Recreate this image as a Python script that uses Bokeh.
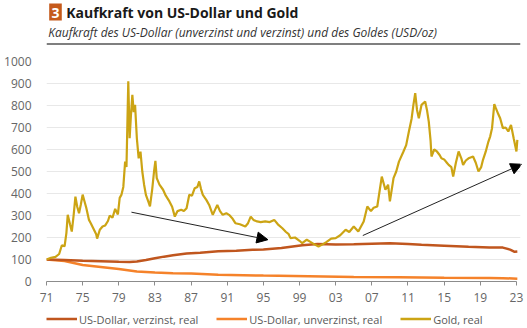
from bokeh.plotting import figure
from bokeh.layouts import column
from bokeh.models import (Range1d, FixedTicker, Legend, LegendItem, Label, Arrow,
                          NormalHead, Span)
from bokeh.embed import file_html
from bokeh.resources import INLINE

# ---------------- data ----------------
gold_year = [1971.0, 1971.5, 1972.0, 1972.4, 1972.7, 1973.0, 1973.2, 1973.35, 1973.6, 1973.8,
             1974.0, 1974.2, 1974.4, 1974.6, 1974.8, 1975.0, 1975.2, 1975.4, 1975.7, 1975.9,
             1976.2, 1976.5, 1976.6, 1976.9, 1977.2, 1977.5, 1977.8, 1978.0, 1978.3, 1978.6,
             1978.9, 1979.1, 1979.3, 1979.5, 1979.7, 1979.85, 1980.05, 1980.2, 1980.35, 1980.5,
             1980.65, 1980.8, 1981.0, 1981.2, 1981.4, 1981.6, 1981.8, 1982.0, 1982.3, 1982.45,
             1982.7, 1982.9, 1983.05, 1983.2, 1983.5, 1983.9, 1984.2, 1984.6, 1984.9, 1985.2,
             1985.5, 1985.9, 1986.2, 1986.5, 1986.8, 1987.1, 1987.4, 1987.7, 1987.9, 1988.1,
             1988.3, 1988.7, 1989.0, 1989.4, 1989.7, 1989.9, 1990.2, 1990.5, 1990.9, 1991.2,
             1991.6, 1991.9, 1992.4, 1993.0, 1993.3, 1993.6, 1993.9, 1994.3, 1994.7, 1995.2,
             1995.7, 1996.2, 1996.6, 1997.1, 1997.5, 1997.8, 1998.0, 1998.5, 1999.0, 1999.3,
             1999.8, 2000.2, 2000.6, 2001.1, 2001.6, 2002.0, 2002.5, 2003.0, 2003.5, 2004.1,
             2004.5, 2005.0, 2005.5, 2006.1, 2006.5, 2006.9, 2007.2, 2007.6, 2008.1, 2008.5,
             2008.8, 2009.0, 2009.4, 2009.7, 2010.0, 2010.5, 2010.8, 2011.1, 2011.4, 2011.6,
             2011.8, 2012.0, 2012.2, 2012.5, 2012.9, 2013.1, 2013.3, 2013.5, 2013.6, 2013.9,
             2014.2, 2014.5, 2014.7, 2015.0, 2015.3, 2015.5, 2015.8, 2016.0, 2016.3, 2016.6,
             2016.9, 2017.1, 2017.4, 2017.7, 2018.0, 2018.2, 2018.5, 2018.8, 2019.1, 2019.3,
             2019.6, 2019.9, 2020.1, 2020.3, 2020.55, 2020.7, 2021.0, 2021.2, 2021.5, 2021.8,
             2022.1, 2022.4, 2022.7, 2023.0, 2023.1]
gold_real = [100, 108, 112, 125, 165, 160, 220, 303, 260, 227,
             300, 386, 340, 310, 350, 395, 365, 335, 280, 265,
             240, 215, 195, 235, 250, 255, 275, 300, 290, 330,
             305, 380, 395, 430, 545, 520, 910, 651, 760, 848,
             770, 803, 650, 560, 590, 500, 440, 394, 360, 341,
             420, 500, 548, 470, 440, 417, 390, 364, 340, 295,
             320, 326, 320, 333, 394, 390, 424, 430, 455, 420,
             394, 370, 348, 303, 330, 348, 320, 303, 310, 303,
             285, 265, 260, 250, 265, 295, 280, 273, 270, 273,
             270, 280, 260, 242, 225, 215, 197, 200, 185, 174,
             190, 180, 170, 159, 170, 180, 195, 197, 210, 235,
             225, 250, 227, 273, 341, 320, 335, 341, 477, 417,
             440, 364, 470, 500, 545, 591, 620, 682, 740, 803,
             856, 780, 742, 803, 818, 780, 727, 640, 568, 600,
             591, 575, 560, 555, 540, 530, 520, 477, 540, 591,
             560, 530, 550, 560, 565, 568, 540, 500, 520, 553,
             590, 636, 660, 697, 806, 790, 760, 742, 697, 700,
             682, 712, 650, 591, 644]

usd_int_year = [1971, 1973, 1975, 1977, 1979, 1980.2, 1981, 1982, 1983, 1984, 1985, 1986.5,
                1988, 1990, 1992, 1993.8, 1995, 1997, 1999.3, 2001, 2003, 2005, 2007, 2009,
                2011, 2012.5, 2015, 2017.7, 2020, 2021.5, 2022.3, 2022.8, 2023.1]
usd_int_real = [100, 98, 94, 92, 90, 89, 91, 98, 106, 113, 119, 127,
                131, 137, 140, 144, 146, 152, 165, 170, 168, 169, 172, 174,
                170, 167, 163, 158, 155, 154, 145, 135, 136]

usd_year = [1971, 1973, 1975, 1977, 1979, 1981, 1983, 1985, 1987, 1990, 1995, 2000,
            2005, 2010, 2015, 2020, 2021.5, 2023.1]
usd_real = [100, 93, 75, 66, 57, 45, 41, 38, 36, 31, 27, 24,
            21, 19, 17, 16, 15, 13]

tick_years = [1971, 1975, 1979, 1983, 1987, 1991, 1995, 1999, 2003, 2007, 2011, 2015, 2019, 2023]
tick_labels = ["71", "75", "79", "83", "87", "91", "95", "99", "03", "07", "11", "15", "19", "23"]
series_names = ["US-Dollar, verzinst, real", "US-Dollar, unverzinst, real", "Gold, real"]

chart_number = "3"
title_text = "Kaufkraft von US-Dollar und Gold"
subtitle_text = "Kaufkraft des US-Dollar (unverzinst und verzinst) und des Goldes (USD/oz)"

# arrows (trend annotations): start/end in data space
arrow1 = (1980.4, 315, 1995.5, 190)
arrow2 = (2006.0, 209, 2023.6, 533)

# ---------------- styling ----------------
FONT = "Open Sans"
C_INT = "#c0561e"
C_USD = "#f5822a"
C_GOLD = "#cca414"
C_BADGE = "#c55a1c"
W = 527
H_TITLE, H_MAIN, H_LEG = 46, 262, 20

# ---------- title strip (pixel-like coordinates) ----------
t = figure(width=W, height=H_TITLE, output_backend="svg", toolbar_location=None,
           x_range=Range1d(0, W), y_range=Range1d(H_TITLE, 0),
           x_axis_location=None, y_axis_location=None,
           min_border=0, min_border_left=0, min_border_right=0,
           min_border_top=0, min_border_bottom=0)
t.outline_line_color = None
t.grid.visible = False
t.margin = 0
t.quad(left=[3], right=[17], top=[3], bottom=[20], fill_color=C_BADGE, line_color=None)
t.add_layout(Label(x=10, y=12, text=chart_number, text_align="center", text_baseline="middle",
                   text_font=FONT, text_font_style="bold", text_font_size="14px",
                   text_color="white"))
t.add_layout(Label(x=22, y=12, text=title_text, text_baseline="middle",
                   text_font=FONT, text_font_style="bold", text_font_size="14px",
                   text_color="#1a1a1a"))
t.add_layout(Label(x=2, y=32, text=subtitle_text, text_baseline="middle",
                   text_font=FONT, text_font_style="italic", text_font_size="12px",
                   text_color="#333333"))
t.add_layout(Span(location=43.5, dimension="width", line_color="#555555", line_width=1.3))

# ---------- main chart ----------
p = figure(width=W, height=H_MAIN, output_backend="svg", toolbar_location=None,
           x_range=Range1d(1971, 2023.45), y_range=Range1d(0, 1000),
           min_border_left=42, min_border_right=7, min_border_top=15,
           min_border_bottom=27)
p.outline_line_color = None
p.margin = 0

r_usd = p.line(usd_year, usd_real, line_color=C_USD, line_width=2.5)
r_int = p.line(usd_int_year, usd_int_real, line_color=C_INT, line_width=2.5)
r_gold = p.line(gold_year, gold_real, line_color=C_GOLD, line_width=2.2)

for (x0, y0, x1, y1) in (arrow1, arrow2):
    p.add_layout(Arrow(x_start=x0, y_start=y0, x_end=x1, y_end=y1,
                       line_color="#222222", line_width=1,
                       end=NormalHead(size=11, fill_color="black", line_color="black")))

p.xaxis.ticker = FixedTicker(ticks=tick_years)
p.xaxis.major_label_overrides = {y: l for y, l in zip(tick_years, tick_labels)}
p.xaxis.bounds = (1971, 2023)
p.xaxis.axis_line_color = "#8c8c8c"
p.xaxis.major_tick_line_color = "#8c8c8c"
p.xaxis.major_tick_out = 4
p.xaxis.major_tick_in = 0
p.xaxis.minor_tick_line_color = None
p.xaxis.major_label_standoff = 7
p.yaxis.ticker = FixedTicker(ticks=list(range(0, 1001, 100)))
p.yaxis.axis_line_color = None
p.yaxis.major_tick_line_color = None
p.yaxis.minor_tick_line_color = None
p.yaxis.major_label_standoff = 9
for ax in (p.xaxis, p.yaxis):
    ax.major_label_text_font = FONT
    ax.major_label_text_font_size = "12px"
    ax.major_label_text_color = "#666666"
p.xgrid.grid_line_color = None
p.ygrid.grid_line_color = "#e8e8e8"
p.ygrid.grid_line_width = 1

# ---------- legend strip ----------
# legend proxies: same styles as the chart lines, drawn outside this strip's visible range
lg = figure(width=W, height=H_LEG, output_backend="svg", toolbar_location=None,
            x_range=Range1d(0, 1), y_range=Range1d(0, 1),
            x_axis_location=None, y_axis_location=None,
            min_border_left=46, min_border_right=0, min_border_top=1, min_border_bottom=0)
lg.outline_line_color = None
lg.grid.visible = False
lg.margin = 0
l_int = lg.line([5, 6], [5, 6], line_color=C_INT, line_width=2.5)
l_usd = lg.line([5, 6], [5, 6], line_color=C_USD, line_width=2.5)
l_gold = lg.line([5, 6], [5, 6], line_color=C_GOLD, line_width=2.5)
legend = Legend(items=[LegendItem(label=series_names[0], renderers=[l_int]),
                       LegendItem(label=series_names[1], renderers=[l_usd]),
                       LegendItem(label=series_names[2], renderers=[l_gold])],
                orientation="horizontal", location="center_left",
                label_text_font=FONT, label_text_font_size="11px", label_text_color="#595959",
                glyph_width=31, glyph_height=14, label_standoff=2, spacing=18,
                padding=0, margin=0, border_line_color=None, background_fill_alpha=0)
lg.add_layout(legend, "center")

layout = column(t, p, lg, spacing=0)
layout.margin = 0

open("out.html", "w").write(file_html(layout, INLINE))
